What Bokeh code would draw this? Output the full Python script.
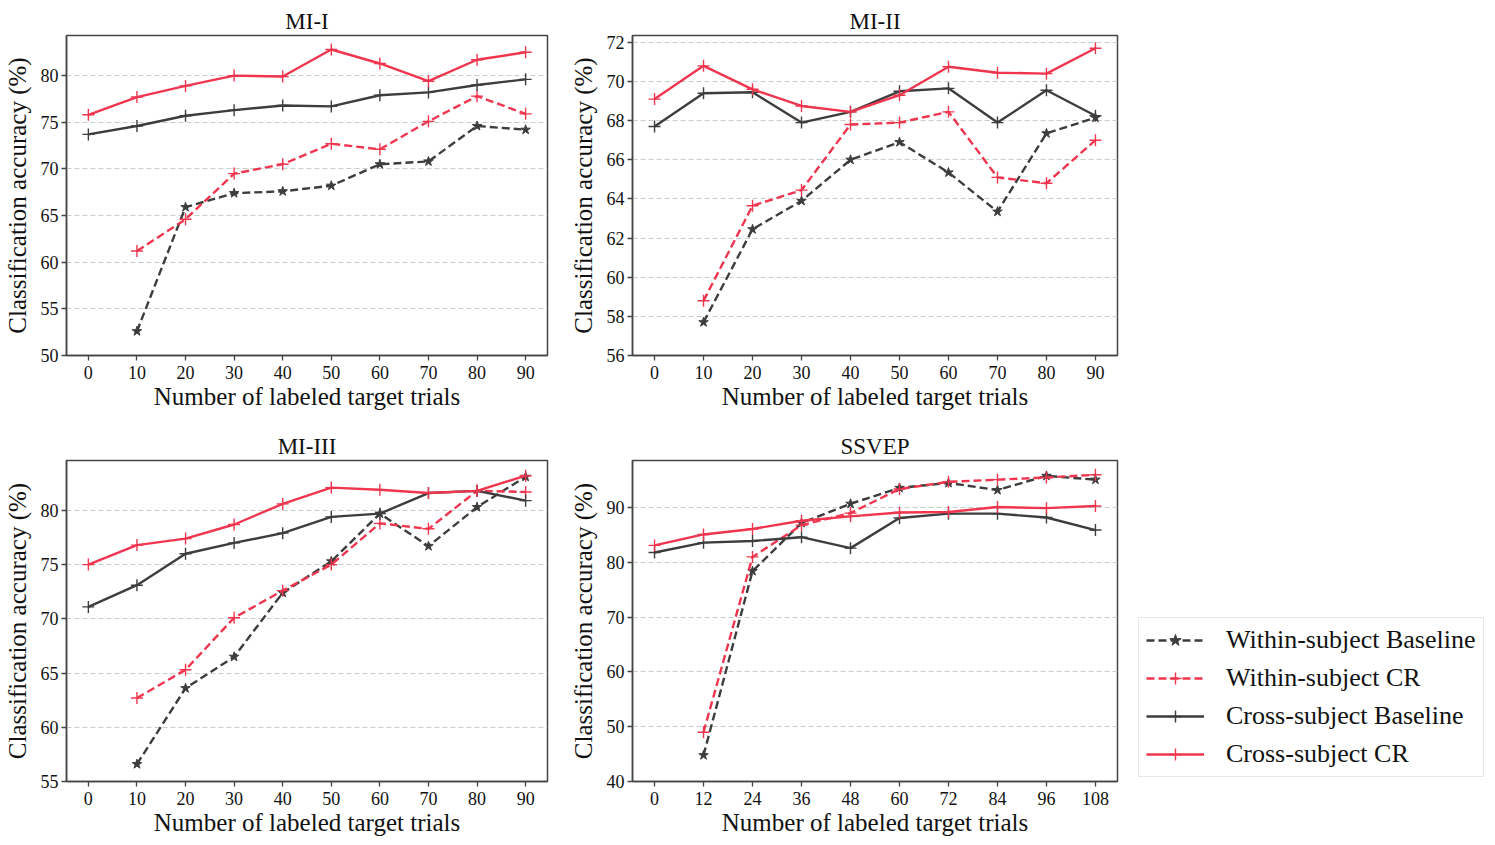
from bokeh.plotting import figure
from bokeh.layouts import row, column
from bokeh.models import Legend, LegendItem, FixedTicker, Range1d
from bokeh.embed import file_html
from bokeh.resources import INLINE

# ---------------- data ----------------
mi_x = [0, 10, 20, 30, 40, 50, 60, 70, 80, 90]
ssvep_x = [0, 12, 24, 36, 48, 60, 72, 84, 96, 108]

mi1_within_base = [52.6, 65.9, 67.4, 67.6, 68.2, 70.5, 70.8, 74.6, 74.2]
mi1_within_cr = [61.2, 64.6, 69.5, 70.5, 72.7, 72.1, 75.1, 77.8, 75.9]
mi1_cross_base = [73.7, 74.6, 75.7, 76.3, 76.8, 76.7, 77.9, 78.2, 79.0, 79.6]
mi1_cross_cr = [75.8, 77.7, 78.9, 80.0, 79.9, 82.8, 81.3, 79.4, 81.7, 82.5]

mi2_within_base = [57.7, 62.45, 63.9, 66.0, 66.9, 65.35, 63.35, 67.35, 68.15]
mi2_within_cr = [58.8, 63.65, 64.45, 67.8, 67.9, 68.45, 65.1, 64.8, 67.0]
mi2_cross_base = [67.7, 69.4, 69.45, 67.9, 68.45, 69.5, 69.65, 67.9, 69.55, 68.25]
mi2_cross_cr = [69.1, 70.8, 69.6, 68.75, 68.45, 69.3, 70.75, 70.45, 70.4, 71.7]

mi3_within_base = [56.6, 63.6, 66.5, 72.4, 75.3, 79.7, 76.7, 80.3, 83.1]
mi3_within_cr = [62.7, 65.3, 70.1, 72.6, 75.0, 78.8, 78.3, 81.8, 81.7]
mi3_cross_base = [71.1, 73.1, 76.0, 77.0, 77.9, 79.4, 79.7, 81.6, 81.8, 80.9]
mi3_cross_cr = [75.0, 76.8, 77.4, 78.7, 80.6, 82.1, 81.9, 81.6, 81.8, 83.2]

ss_within_base = [44.8, 78.4, 87.2, 90.7, 93.6, 94.5, 93.2, 95.8, 95.1]
ss_within_cr = [49.0, 81.0, 86.8, 89.0, 93.4, 94.7, 95.1, 95.5, 96.0]
ss_cross_base = [81.8, 83.6, 83.9, 84.6, 82.6, 88.1, 88.9, 88.9, 88.2, 85.9]
ss_cross_cr = [83.1, 85.1, 86.1, 87.6, 88.4, 89.1, 89.2, 90.1, 89.9, 90.3]

series_names = ["Within-subject Baseline", "Within-subject CR",
                "Cross-subject Baseline", "Cross-subject CR"]

DARK = "#3d3d3d"
RED = "#f0364f"
FONT = "Liberation Serif"
LINE_W = 2.4
DASH = "8 4"


def make_panel(title, xs, wb, wc, cb, cc, y_start, y_end, y_ticks,
               width, height, bl, br, bt, bb):
    p = figure(width=width, height=height, output_backend="svg",
               toolbar_location=None, min_border_left=bl, min_border_right=br,
               min_border_top=bt, min_border_bottom=bb)
    span = xs[-1] - xs[0]
    p.x_range = Range1d(xs[0] - 0.05 * span, xs[-1] + 0.05 * span)
    p.y_range = Range1d(y_start, y_end)
    p.title.text = title
    p.title.align = "center"
    p.title.text_font = FONT
    p.title.text_font_size = "23px"
    p.title.text_font_style = "normal"
    p.title.text_color = "#111111"
    p.title.standoff = 4

    p.xaxis.ticker = FixedTicker(ticks=xs)
    p.yaxis.ticker = FixedTicker(ticks=y_ticks)
    p.xaxis.axis_label = "Number of labeled target trials"
    p.yaxis.axis_label = "Classification accuracy (%)"
    for ax in (p.xaxis, p.yaxis):
        ax.axis_label_text_font = FONT
        ax.axis_label_text_font_size = "25px"
        ax.axis_label_text_font_style = "normal"
        ax.axis_label_text_color = "#111111"
        ax.major_label_text_font = FONT
        ax.major_label_text_font_size = "18px"
        ax.major_label_text_color = "#111111"
        ax.axis_line_color = "#444444"
        ax.axis_line_width = 1.5
        ax.major_tick_line_color = "#444444"
        ax.major_tick_line_width = 1.3
        ax.major_tick_out = 5
        ax.major_tick_in = 0
        ax.minor_tick_line_color = None
    p.xaxis.axis_label_standoff = 1
    p.yaxis.axis_label_standoff = 7
    p.xaxis.major_label_standoff = 5
    p.yaxis.major_label_standoff = 3

    p.xgrid.grid_line_color = None
    p.ygrid.grid_line_color = "#c5cfca"
    p.ygrid.grid_line_dash = "5 3"
    p.ygrid.grid_line_width = 1.1
    p.outline_line_color = "#444444"
    p.outline_line_width = 1.5
    p.background_fill_color = "white"
    p.border_fill_color = "white"

    xw = xs[1:]
    p.line(xw, wb, line_color=DARK, line_width=LINE_W, line_dash=DASH)
    p.scatter(xw, wb, marker="star", size=10, fill_color=DARK, line_color=DARK)
    p.line(xw, wc, line_color=RED, line_width=LINE_W, line_dash=DASH)
    p.scatter(xw, wc, marker="cross", size=12, line_color=RED, line_width=1.4)
    p.line(xs, cb, line_color=DARK, line_width=LINE_W)
    p.scatter(xs, cb, marker="cross", size=12, line_color=DARK, line_width=1.4)
    p.line(xs, cc, line_color=RED, line_width=LINE_W)
    p.scatter(xs, cc, marker="cross", size=12, line_color=RED, line_width=1.4)
    return p


H1 = 425
H2 = 418
p1 = make_panel("MI-I", mi_x, mi1_within_base, mi1_within_cr, mi1_cross_base, mi1_cross_cr,
                50, 84.3, [50, 55, 60, 65, 70, 75, 80], 560, H1, 63, 13, 35, H1 - 355)
p2 = make_panel("MI-II", mi_x, mi2_within_base, mi2_within_cr, mi2_cross_base, mi2_cross_cr,
                56, 72.35, [56, 58, 60, 62, 64, 66, 68, 70, 72], 578, H1, 72, 21, 35, H1 - 355)
p3 = make_panel("MI-III", mi_x, mi3_within_base, mi3_within_cr, mi3_cross_base, mi3_cross_cr,
                55, 84.6, [55, 60, 65, 70, 75, 80], 560, H2, 63, 13, 35, H2 - 356)
p4 = make_panel("SSVEP", ssvep_x, ss_within_base, ss_within_cr, ss_cross_base, ss_cross_cr,
                40, 98.6, [40, 50, 60, 70, 80, 90], 578, H2, 72, 21, 35, H2 - 356)

# ---------------- legend figure ----------------
LW = 357
lg = figure(width=LW, height=H1 + H2, output_backend="svg", toolbar_location=None,
            x_axis_location=None, y_axis_location=None,
            min_border_left=0, min_border_right=0, min_border_top=0, min_border_bottom=0,
            x_range=Range1d(0, 1), y_range=Range1d(0, 1))
lg.outline_line_color = None
lg.xgrid.grid_line_color = None
lg.ygrid.grid_line_color = None

off = [5.0]  # a point outside the visible range, only used for legend glyphs
r_wb_l = lg.line(off, off, line_color=DARK, line_width=LINE_W, line_dash=DASH)
r_wb_m = lg.scatter(off, off, marker="star", size=10, fill_color=DARK, line_color=DARK)
r_wc_l = lg.line(off, off, line_color=RED, line_width=LINE_W, line_dash=DASH)
r_wc_m = lg.scatter(off, off, marker="cross", size=12, line_color=RED, line_width=1.4)
r_cb_l = lg.line(off, off, line_color=DARK, line_width=LINE_W)
r_cb_m = lg.scatter(off, off, marker="cross", size=12, line_color=DARK, line_width=1.4)
r_cc_l = lg.line(off, off, line_color=RED, line_width=LINE_W)
r_cc_m = lg.scatter(off, off, marker="cross", size=12, line_color=RED, line_width=1.4)

items = [
    LegendItem(label=series_names[0], renderers=[r_wb_l, r_wb_m]),
    LegendItem(label=series_names[1], renderers=[r_wc_l, r_wc_m]),
    LegendItem(label=series_names[2], renderers=[r_cb_l, r_cb_m]),
    LegendItem(label=series_names[3], renderers=[r_cc_l, r_cc_m]),
]
legend = Legend(items=items, location=(0, H1 + H2 - 777))
legend.label_text_font = FONT
legend.label_text_font_size = "26px"
legend.label_text_color = "#111111"
legend.label_height = 30
legend.glyph_height = 30
legend.glyph_width = 58
legend.label_standoff = 22
legend.spacing = 8
legend.padding = 7
legend.margin = 0
legend.border_line_color = "#d0d0d0"
legend.border_line_width = 1.2
legend.background_fill_alpha = 1.0
lg.add_layout(legend)

layout = row(column(p1, p3, spacing=0), column(p2, p4, spacing=0), lg, spacing=0)

open("out.html", "w").write(file_html(layout, INLINE))
